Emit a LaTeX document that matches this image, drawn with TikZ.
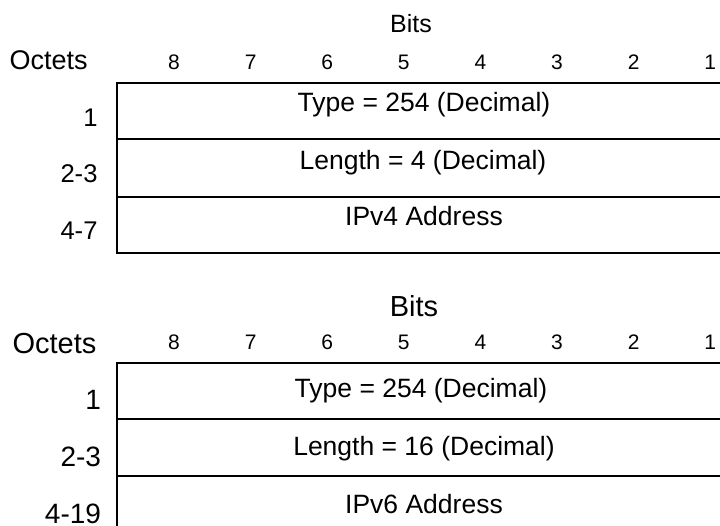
\documentclass[tikz,border=0pt]{standalone}
\usepackage{fontspec}
\setmainfont{Liberation Sans}
\tikzset{
  txt/.style={anchor=base,inner sep=0pt},
  octlbl/.style={anchor=base east,inner sep=0pt},
  headlbl/.style={anchor=base west,inner sep=0pt},
  bitnum/.style={anchor=base,inner sep=0pt,font=\fontsize{21}{25}\selectfont},
  fld/.style={anchor=base,inner sep=0pt,font=\fontsize{26.5}{31}\selectfont},
}
\begin{document}
\begin{tikzpicture}[x=1pt,y=-1pt,line width=2pt]
  \useasboundingbox (0,0) rectangle (720,526);
  % IPv4 option
  \node[txt,font=\fontsize{25}{30}\selectfont] (bitsA) at (411,32.3) {Bits};
  \node[headlbl,font=\fontsize{27}{32}\selectfont] (octA) at (8.7,70) {Octets};
  \foreach \b in {1,...,8}
    \node[bitnum] (bitA\b) at ({174+(8-\b)*76.6},69.3) {\b};
  \draw (760,83.3) -- (116.7,83.3) -- (116.7,253.3) -- (760,253.3);
  \draw (116.7,139.3) -- (760,139.3);
  \draw (116.7,196.7) -- (760,196.7);
  \node[octlbl,font=\fontsize{25.6}{30}\selectfont] (rowA1) at (98.5,126.7) {1};
  \node[octlbl,font=\fontsize{25.6}{30}\selectfont] (rowA2) at (98.5,182.7) {2-3};
  \node[octlbl,font=\fontsize{25.6}{30}\selectfont] (rowA3) at (98.5,240) {4-7};
  \node[fld] (typeA) at (424,111.7) {Type = 254 (Decimal)};
  \node[fld] (lenA) at (423,169.3) {Length = 4 (Decimal)};
  \node[fld] (addrA) at (424,225.7) {IPv4 Address};
  % IPv6 option
  \node[txt,font=\fontsize{29}{34}\selectfont] (bitsB) at (414,316.3) {Bits};
  \node[headlbl,font=\fontsize{29}{34}\selectfont] (octB) at (11.6,353.3) {Octets};
  \foreach \b in {1,...,8}
    \node[bitnum] (bitB\b) at ({174+(8-\b)*76.6},349.7) {\b};
  \draw (760,363.3) -- (117.3,363.3) -- (117.3,540) -- (760,540);
  \draw (117.3,419.3) -- (760,419.3);
  \draw (117.3,476) -- (760,476);
  \node[octlbl,font=\fontsize{28}{33}\selectfont] (rowB1) at (102,409.7) {1};
  \node[octlbl,font=\fontsize{28}{33}\selectfont] (rowB2) at (102,466) {2-3};
  \node[octlbl,font=\fontsize{28}{33}\selectfont] (rowB3) at (102,523) {4-19};
  \node[fld] (typeB) at (421,397.7) {Type = 254 (Decimal)};
  \node[fld] (lenB) at (424,455.7) {Length = 16 (Decimal)};
  \node[fld] (addrB) at (424,513.3) {IPv6 Address};
\end{tikzpicture}
\end{document}
